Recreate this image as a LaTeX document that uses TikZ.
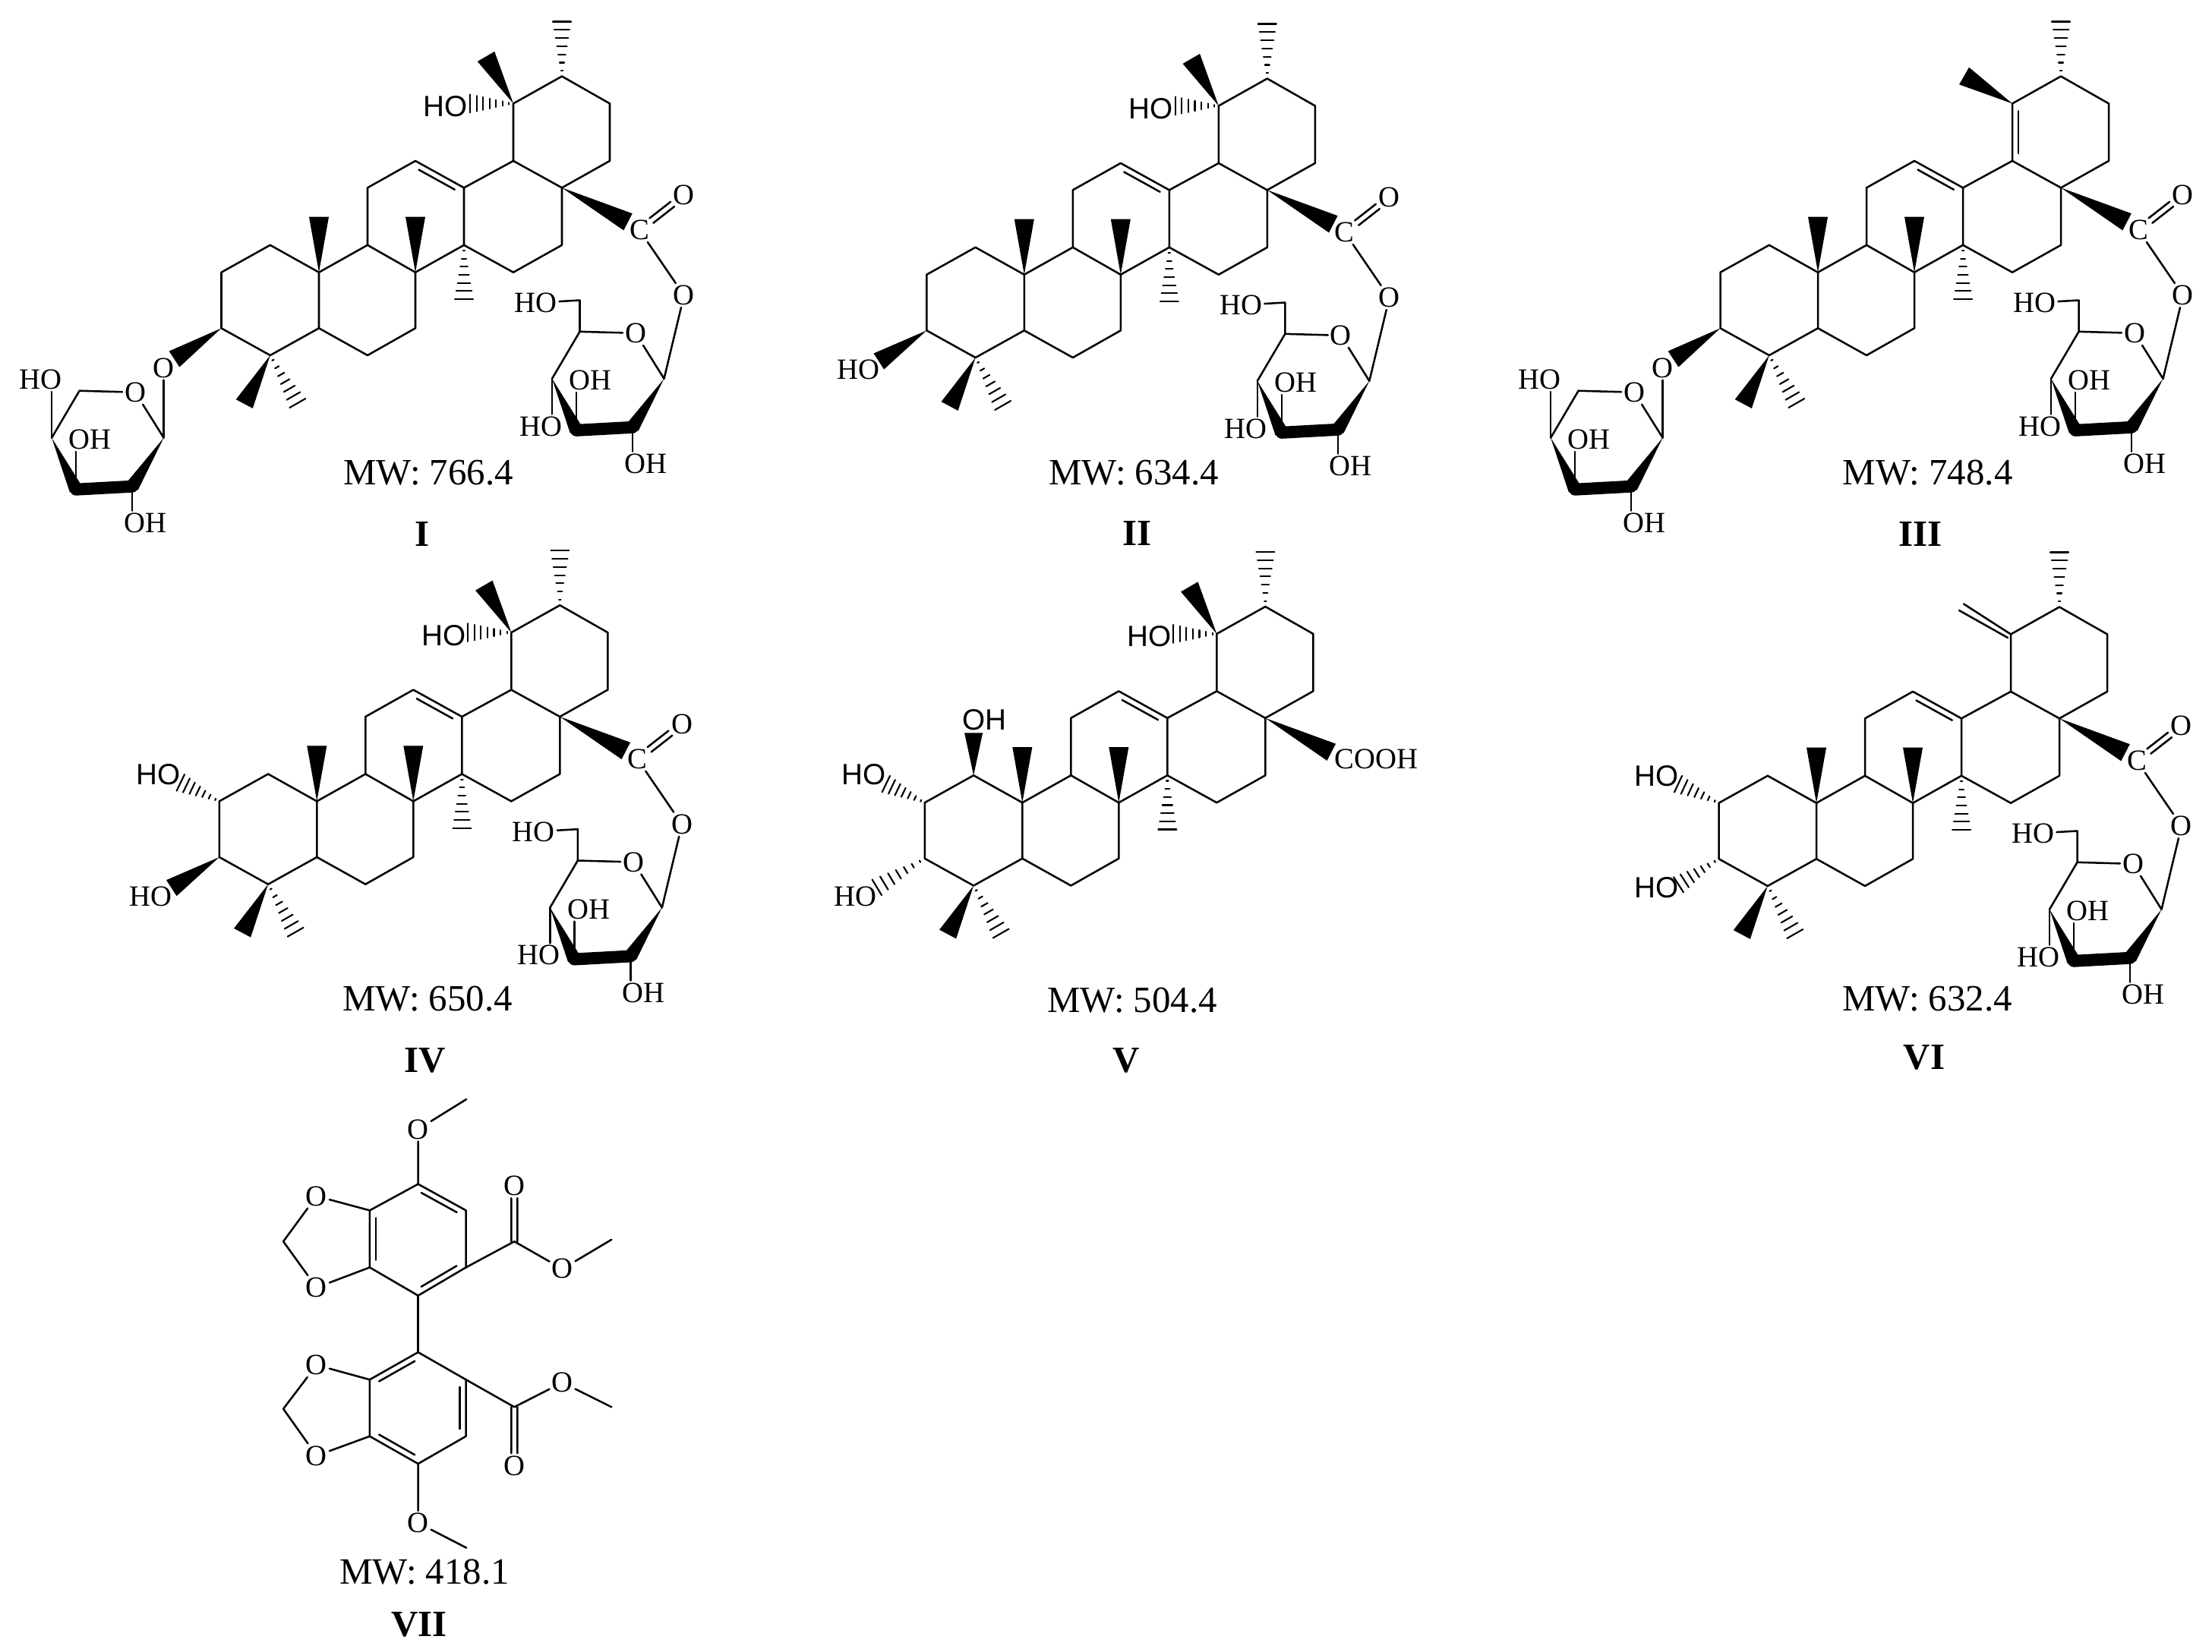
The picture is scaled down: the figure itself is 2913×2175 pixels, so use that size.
\documentclass[tikz,border=0pt]{standalone}
\usepackage{fontspec}
\setmainfont{Liberation Serif}
\setsansfont{Liberation Sans}
\usetikzlibrary{calc}

\tikzset{
  bondline/.style={line width=0.72pt, line cap=round, line join=round},
  atom/.style={font=\fontsize{11}{12}\selectfont, inner sep=0.5pt},
  sansatom/.style={font=\fontsize{11}{12}\selectfont\sffamily, inner sep=0.5pt},
  mwlabel/.style={font=\fontsize{13.9}{15}\selectfont, inner sep=0pt},
  numlabel/.style={font=\fontsize{13.9}{15}\selectfont\bfseries, inner sep=0pt},
  hashline/.style={line width=0.6pt},
  boldbond/.style={line width=0.16cm, line cap=round}
}

% solid and hashed stereo bonds, narrow end first
\newcommand{\wedgebond}[3][0.13cm]{\fill (#2) -- ($(#3)!#1!90:(#2)$) -- ($(#3)!#1!-90:(#2)$) -- cycle;}
\newcommand{\hashbond}[3][0.12cm]{%
  \foreach \t in {0.1,0.25,0.4,0.55,0.7,0.85,1} {
    \coordinate (hp) at ($(#2)!\t!(#3)$);
    \draw[hashline] ($(hp)!\t*#1!90:(#2)$) -- ($(hp)!\t*#1!-90:(#2)$);
  }}
\newcommand{\innerbond}[2]{\draw ($(#1)!0.13!(#2)!0.08cm!90:(#2)$) -- ($(#1)!0.87!(#2)!0.08cm!-90:(#1)$);}
\newcommand{\twinbond}[4]{%
  \draw ($(#1)!#3!(#2)!0.04cm!90:(#2)$) -- ($(#1)!#4!(#2)!0.04cm!-90:(#1)$);
  \draw ($(#1)!#3!(#2)!0.04cm!-90:(#2)$) -- ($(#1)!#4!(#2)!0.04cm!90:(#1)$);}

% five rings, coordinates as in compound I
\newcommand{\triterpcore}{%
  \foreach \nm/\px/\py in {c1/355.8/322.8,c2/291.5/358.7,c3/291.5/432.3,c4/355.8/468,c5/420/432.3,
      c6/484/468,c7/547/432.3,c8/547/358.7,c9/484/322.8,c10/420/358.7,c11/484/247.3,c12/547/211.9,
      c13/611/247.3,c14/611/322.8,c15/676/358.7,c16/740/322.8,c17/740/247.3,c18/676/211.9,
      c19/676/136.4,c20/740/100.5,c21/803/136.4,c22/803/211.9}
    {\coordinate (\nm) at (\px,\py);}
  \coordinate (me20) at (740,28.5);
  \coordinate (me10) at (420,285.7);
  \coordinate (me8) at (547,285.7);
  \coordinate (me14) at (611,394);
  \coordinate (me4a) at (321.8,532);
  \coordinate (me4b) at (391.8,531);
  \draw (c1) -- (c2) -- (c3) -- (c4) -- (c5) -- (c10) -- cycle;
  \draw (c5) -- (c6) -- (c7) -- (c8) -- (c9) -- (c10);
  \draw (c9) -- (c11) -- (c12) -- (c13) -- (c14) -- (c8);
  \draw (c14) -- (c15) -- (c16) -- (c17) -- (c18) -- (c13);
  \draw (c18) -- (c19) -- (c20) -- (c21) -- (c22) -- (c17);
  \innerbond{c13}{c12}
  \hashbond{c20}{me20}
  \wedgebond{c10}{me10}
  \wedgebond{c8}{me8}
  \hashbond{c14}{me14}
  \wedgebond[0.125cm]{c4}{me4a}
  \hashbond{c4}{me4b}
}

% the hydroxy and methyl on the E ring
\newcommand{\hotop}{%
  \coordinate (me19) at (640,74.4);
  \coordinate (hh19) at (619,136.4);
  \node[sansatom] (ho19) at (587,140) {HO};
  \wedgebond{c19}{me19}
  \hashbond{c19}{hh19}
}

% pyranose ring, #1 and #2 give its anomeric carbon
\newcommand{\sugarcore}[2]{%
  \begin{scope}[shift={(#1,#2)}]
  \coordinate (s1) at (0,0);
  \coordinate (s5) at (-111,-62);
  \coordinate (s4) at (-147.5,0);
  \coordinate (s3) at (-115.5,68);
  \coordinate (s2) at (-41.5,64);
  \node[atom] (so) at (-37.5,-60) {O};
  \node[atom] (oh3) at (-96.8,2.2) {OH};
  \node[atom] (oh2) at (-24.5,112) {OH};
  \draw (s1) -- (so) -- (s5) -- (s4);
  \wedgebond[0.09cm]{s4}{s3}
  \draw[boldbond] (s3) -- (s2);
  \wedgebond[0.09cm]{s1}{s2}
  \draw (s3) -- (s3 |- oh3.south);
  \draw (s2) -- (s2 |- oh2.north);
  \end{scope}
}

% ester at C17 with its sugar
\newcommand{\estersugar}{%
  \coordinate (tip17) at (827,292.3);
  \wedgebond[0.125cm]{c17}{tip17}
  \node[atom] (cest) at (842,303) {C};
  \node[atom] (oxo) at (900.8,257) {O};
  \node[atom] (olink) at (900.8,389) {O};
  \twinbond{cest}{oxo}{0.27}{0.74}
  \draw (cest) -- (olink);
  \sugarcore{874.5}{498.8}
  \coordinate (s6) at ($(s5)+(0,-41.3)$);
  \node[atom] (ho6) at (705.5,398.8) {HO};
  \node[atom] (ho4) at (712,561.6) {HO};
  \draw (olink) -- (s1);
  \draw (s5) -- (s6) -- (ho6);
  \draw (s4) -- (s4 |- ho4.north);
}

% arabinose on O3
\newcommand{\glycoside}{%
  \coordinate (tip3) at (229.5,473);
  \wedgebond[0.125cm]{c3}{tip3}
  \node[atom] (oglyc) at (215.6,484.7) {O};
  \sugarcore{215.6}{576.7}
  \node[atom] (hoa) at (53.9,500) {HO};
  \draw (oglyc) -- (s1);
  \draw (s4) -- (s4 |- hoa.south);
}

\begin{document}
\begin{tikzpicture}[x=0.01cm, y=-0.01cm, bondline]
\useasboundingbox (0,0) rectangle (2913,2175);

% I
\begin{scope}
\triterpcore
\hotop
\estersugar
\glycoside
\end{scope}

% II
\begin{scope}[shift={(928.8,3)}]
\triterpcore
\hotop
\estersugar
\coordinate (tip3) at (228.5,473);
\wedgebond[0.125cm]{c3}{tip3}
\node[atom] (ho3) at (201.2,483.8) {HO};
\end{scope}

% III
\begin{scope}[shift={(1974,0)}]
\triterpcore
\innerbond{c19}{c18}
\coordinate (me19) at (612.5,100);
\wedgebond{c19}{me19}
\estersugar
\glycoside
\end{scope}

% IV
\begin{scope}[shift={(-2.7,696.7)}]
\triterpcore
\hotop
\estersugar
\coordinate (tip3) at (228.5,473);
\wedgebond[0.125cm]{c3}{tip3}
\node[atom] (ho3) at (201.2,483.8) {HO};
\coordinate (tip2) at (240.5,334.2);
\hashbond{c2}{tip2}
\node[sansatom] (ho2) at (211.5,323.7) {HO};
\end{scope}

% V
\begin{scope}[shift={(926.3,698.5)}]
\triterpcore
\hotop
\coordinate (tip17) at (827,292.3);
\wedgebond[0.125cm]{c17}{tip17}
\node[atom] (cooh) at (886,301.5) {COOH};
\coordinate (tip3) at (228.5,470.3);
\hashbond{c3}{tip3}
\node[atom] (ho3) at (200,482.8) {HO};
\coordinate (tip2) at (240.5,334.2);
\hashbond{c2}{tip2}
\node[sansatom] (ho2) at (211.5,322) {HO};
\coordinate (tip1) at (355.8,266.8);
\wedgebond[0.12cm]{c1}{tip1}
\node[sansatom] (oh1) at (370.2,249.3) {OH};
\end{scope}

% VI
\begin{scope}[shift={(1972,699)}]
\triterpcore
\coordinate (ch2a) at (614,96.5);
\coordinate (ch2b) at (608,105);
\coordinate (c19b) at (672,141);
\draw (c19) -- (ch2a);
\draw (c19b) -- (ch2b);
\estersugar
\coordinate (tip3) at (238.5,466.3);
\hashbond{c3}{tip3}
\node[sansatom] (ho3) at (209.9,470.1) {HO};
\coordinate (tip2) at (238,333.7);
\hashbond{c2}{tip2}
\node[sansatom] (ho2) at (209.9,323.3) {HO};
\end{scope}

% VII
\foreach \nm/\px/\py in {ta/550.6/1559.6,tb/613.6/1594.3,tc/613.6/1669.4,td/550.6/1706.5,te/486.9/1669.4,tf/486.9/1594.3,
    ua/550.6/1781.1,ub/613.6/1817.2,uc/613.6/1891.8,ud/550.6/1928,ue/486.9/1891.8,uf/486.9/1817.2,
    mt/614.2/1447.9,mb/614.2/2038.7,dt/373.1/1635.2,db/373.1/1855.7,et/677.3/1635.2,eb/677.3/1853.3,
    mf/805.3/1632.8,mg/805.3/1853.3}
  {\coordinate (\nm) at (\px,\py);}
\draw
    (550.6,1487.4) node[atom] (ot) {O}
    (416.9,1575.5) node[atom] (od1) {O}
    (416.9,1695.9) node[atom] (od2) {O}
    (677.3,1562) node[atom] (ok1) {O}
    (740.6,1671.3) node[atom] (oe1) {O}
    (416.9,1798) node[atom] (od3) {O}
    (416.9,1917.4) node[atom] (od4) {O}
    (677.3,1931.3) node[atom] (ok2) {O}
    (740.6,1821) node[atom] (oe2) {O}
    (550.6,2006) node[atom] (ob) {O};
\draw (ta) -- (tb) -- (tc) -- (td) -- (te) -- (tf) -- cycle;
\draw (ua) -- (ub) -- (uc) -- (ud) -- (ue) -- (uf) -- cycle;
\innerbond{tb}{ta}
\innerbond{td}{tc}
\innerbond{tf}{te}
\innerbond{ua}{uf}
\innerbond{uc}{ub}
\innerbond{ue}{ud}
\draw (td) -- (ua);
\draw (ta) -- (ot) -- (mt);
\draw (ud) -- (ob) -- (mb);
\draw (tf) -- (od1) -- (dt) -- (od2) -- (te);
\draw (uf) -- (od3) -- (db) -- (od4) -- (ue);
\draw (tc) -- (et) -- (oe1) -- (mf);
\draw (ub) -- (eb) -- (oe2) -- (mg);
\twinbond{et}{ok1}{0}{0.78}
\twinbond{eb}{ok2}{0}{0.78}

% captions
\draw
    (564,623) node[mwlabel] (mwa) {MW: 766.4}
    (1493,623) node[mwlabel] (mwb) {MW: 634.4}
    (2538.7,623) node[mwlabel] (mwc) {MW: 748.4}
    (563,1316) node[mwlabel] (mwd) {MW: 650.4}
    (1491,1318) node[mwlabel] (mwe) {MW: 504.4}
    (2538,1316) node[mwlabel] (mwf) {MW: 632.4}
    (559,2071) node[mwlabel] (mwg) {MW: 418.1}
    (556,703) node[numlabel] (numa) {I}
    (1497,702) node[numlabel] (numb) {II}
    (2529,703) node[numlabel] (numc) {III}
    (560,1397) node[numlabel] (numd) {IV}
    (1483,1397) node[numlabel] (nume) {V}
    (2534,1393) node[numlabel] (numf) {VI}
    (552,2140) node[numlabel] (numg) {VII};
\end{tikzpicture}
\end{document}
